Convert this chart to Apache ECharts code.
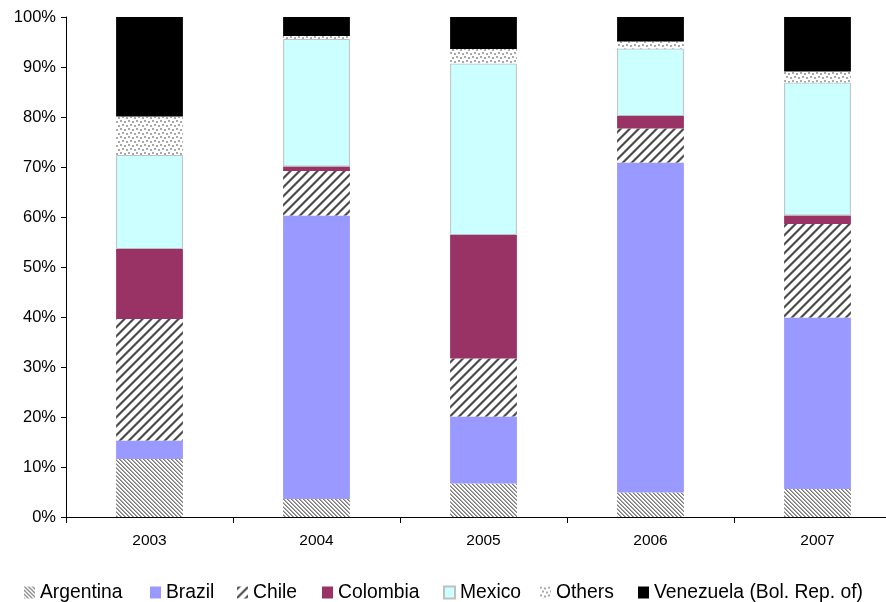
<!DOCTYPE html>
<html>
<head>
<meta charset="utf-8">
<script src="https://cdn.jsdelivr.net/npm/echarts@6/dist/echarts.min.js"></script>
<style>
  html, body { margin: 0; padding: 0; background: #fff; }
  #chart { width: 886px; height: 602px; }
</style>
</head>
<body>
<div id="chart"></div>
<script>
// Share of total (%) by country, per year
const years = ['2003', '2004', '2005', '2006', '2007'];
const argentina = [11.6, 3.6, 6.7, 4.9, 5.6];
const brazil    = [3.7, 56.7, 13.4, 66.0, 34.3];
const chile     = [24.3, 8.9, 11.6, 6.8, 18.7];
const colombia  = [14.0, 0.9, 24.7, 2.5, 1.7];
const mexico    = [18.8, 25.5, 34.3, 13.5, 26.6];
const others    = [7.7, 0.6, 2.9, 1.4, 2.2];
const venezuela = [19.9, 3.8, 6.4, 4.9, 10.9];
const seriesNames = ['Argentina', 'Brazil', 'Chile', 'Colombia', 'Mexico', 'Others', 'Venezuela (Bol. Rep. of)'];
const yTicks = [0, 10, 20, 30, 40, 50, 60, 70, 80, 90, 100];

// Small canvas tiles used as fill patterns
function tile(w, h, paint) {
  const c = document.createElement('canvas');
  c.width = w; c.height = h;
  const ctx = c.getContext('2d');
  ctx.fillStyle = '#fff';
  ctx.fillRect(0, 0, w, h);
  paint(ctx);
  return { image: c, repeat: 'repeat' };
}
// thin downward diagonal (\)
const patArgentina = tile(4, 4, ctx => {
  for (let y = 0; y < 4; y++) for (let x = 0; x < 4; x++) {
    const d = ((x - y) % 4 + 4) % 4;
    if (d === 0) { ctx.fillStyle = '#7a7a7a'; ctx.fillRect(x, y, 1, 1); }
    else if (d === 1) { ctx.fillStyle = '#a8a8a8'; ctx.fillRect(x, y, 1, 1); }
  }
});
// wide upward diagonal (/)
const patChile = tile(9, 9, ctx => {
  for (let y = 0; y < 9; y++) for (let x = 0; x < 9; x++) {
    const d = (x + y) % 9;
    if (d === 1 || d === 2) { ctx.fillStyle = '#4a4a4a'; ctx.fillRect(x, y, 1, 1); }
    else if (d === 0 || d === 3) { ctx.fillStyle = '#a0a0a0'; ctx.fillRect(x, y, 1, 1); }
  }
});
// dotted
const patOthers = tile(8, 8, ctx => {
  ctx.fillStyle = '#a8a8a8';
  ctx.fillRect(0, 0, 2, 2);
  ctx.fillRect(4, 1, 2, 2);
  ctx.fillRect(2, 4, 2, 2);
  ctx.fillRect(6, 5, 2, 2);
});

const font = '"Liberation Sans", Arial, sans-serif';

function bar(name, data, color, extra) {
  return Object.assign({
    name, type: 'bar', stack: 'total', data,
    barWidth: '40%',
    itemStyle: { color },
    emphasis: { disabled: true }
  }, extra || {});
}

// one legend block per entry so each can sit at its own x position
const legendX = [24, 150, 237, 322, 443, 540, 638];
const legends = seriesNames.map((n, i) => ({
  data: [n],
  left: legendX[i], top: 583,
  padding: 0,
  itemWidth: 11, itemHeight: 12,
  icon: 'rect',
  textStyle: { color: '#000', fontFamily: font, fontSize: 19.3, padding: [0, 0, 0, 0] }
}));

const chart = echarts.init(document.getElementById('chart'), null, { renderer: 'canvas' });
chart.setOption({
  animation: false,
  backgroundColor: '#fff',
  grid: { left: 66, top: 17, width: 835, height: 500, containLabel: false, outerBoundsMode: 'none' },
  xAxis: {
    type: 'category',
    data: years,
    axisLine: { lineStyle: { color: '#000', width: 1 } },
    axisTick: { show: true, length: 6, lineStyle: { color: '#000' } },
    axisLabel: { color: '#000', fontFamily: font, fontSize: 15.5, margin: 16 }
  },
  yAxis: {
    type: 'value',
    min: yTicks[0], max: yTicks[yTicks.length - 1], interval: 10,
    axisLine: { show: true, lineStyle: { color: '#000', width: 1 } },
    axisTick: { show: true, length: 5, lineStyle: { color: '#000' } },
    splitLine: { show: false },
    axisLabel: { color: '#000', fontFamily: font, fontSize: 16.5, margin: 10, formatter: '{value}%' }
  },
  legend: legends,
  series: [
    bar(seriesNames[0], argentina, patArgentina),
    bar(seriesNames[1], brazil, '#9999ff'),
    bar(seriesNames[2], chile, patChile),
    bar(seriesNames[3], colombia, '#993366'),
    bar(seriesNames[4], mexico, '#ccffff', { itemStyle: { color: '#ccffff', borderColor: '#c0c0c0', borderWidth: 1 } }),
    bar(seriesNames[5], others, patOthers),
    bar(seriesNames[6], venezuela, '#000000')
  ]
});
</script>
</body>
</html>
